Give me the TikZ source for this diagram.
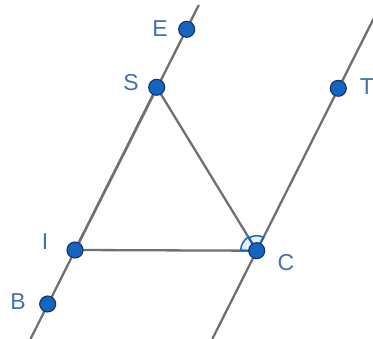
\documentclass[tikz,border=0pt]{standalone}
\usepackage{fontspec}
\setmainfont{Liberation Sans}
\definecolor{ptfill}{RGB}{21,101,192}
\definecolor{ptdraw}{RGB}{16,52,105}
\definecolor{lab}{RGB}{70,112,172}
\definecolor{seg}{RGB}{112,112,112}
\tikzset{
  pt/.style={circle, fill=ptfill, draw=ptdraw, line width=1.1pt, minimum size=16pt, inner sep=0pt},
  lbl/.style={text=lab, font=\fontsize{23}{23}\selectfont, inner sep=0pt},
  segline/.style={draw=seg, line width=2.3pt},
  angmark/.style={draw=ptfill, line width=1.5pt, fill=ptfill, fill opacity=0.1},
}
\begin{document}
\begin{tikzpicture}[x=1pt,y=-1pt]
\useasboundingbox (0,0) rectangle (373,339);
\clip (0,0) rectangle (373,339);
% points coordinates
\coordinate (Ep) at (186.7,29.3);
\coordinate (Sp) at (156.7,87.3);
\coordinate (Ip) at (75,250);
\coordinate (Bp) at (47.7,304);
\coordinate (Cp) at (256.7,250.7);
\coordinate (Tp) at (338.3,88.3);
\coordinate (L1a) at (198.8,5);
\coordinate (L1b) at (30.5,339);
\coordinate (L2a) at (383,0);
\coordinate (L2b) at (212.3,339);
% lines
\draw[segline] (L1b) -- (L1a);
\draw[segline] (L2b) -- (L2a);
\draw[segline] (Ip) -- (Sp) -- (Cp) -- cycle;
% angle marks at C
\draw[angmark] (Cp) -- ++(180:16) arc[start angle=180, end angle=238.5, radius=16] -- cycle;
\draw[angmark] (Cp) -- ++(238.5:15) arc[start angle=238.5, end angle=296.7, radius=15] -- cycle;
% points
\node[pt] (E) at (Ep) {};
\node[pt] (S) at (Sp) {};
\node[pt] (I) at (Ip) {};
\node[pt] (B) at (Bp) {};
\node[pt] (C) at (Cp) {};
\node[pt] (T) at (Tp) {};
% labels
\node[lbl] (lE) at (160,29) {E};
\node[lbl] (lS) at (131,83) {S};
\node[lbl] (lT) at (367,87) {T};
\node[lbl] (lI) at (45,242) {I};
\node[lbl] (lC) at (286,263) {C};
\node[lbl] (lB) at (18,302) {B};
\end{tikzpicture}
\end{document}
